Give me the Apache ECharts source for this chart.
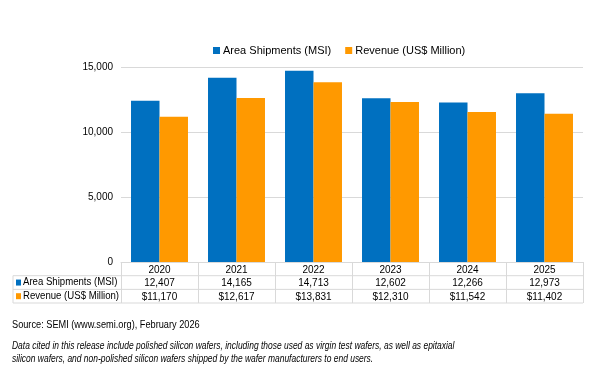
<!DOCTYPE html>
<html>
<head>
<meta charset="utf-8">
<script src="https://cdn.jsdelivr.net/npm/echarts@6/dist/echarts.min.js"></script>
<style>
  html, body { margin: 0; padding: 0; background: #fff; }
  #chart { width: 600px; height: 375px; }
</style>
</head>
<body>
<div id="chart"></div>
<script>
var years = ['2020', '2021', '2022', '2023', '2024', '2025']
var areaShipments = [12407, 14165, 14713, 12602, 12266, 12973]
var revenue = [11170, 12617, 13831, 12310, 11542, 11402]
var yTicks = [0, 5000, 10000, 15000]
var seriesNames = ['Area Shipments (MSI)', 'Revenue (US$ Million)']

var BLUE = '#0070c0'
var ORANGE = '#ff9900'
var LINE = '#d9d9d9'
var FONT = '"Liberation Sans", Arial, sans-serif'

var gridLeft = 121, gridRight = 17, gridTop = 67, gridBottom = 113
var rowY = [262, 275.7, 289.4, 303]
var tableLeft = 13

function fmt(v) {
    return v.toLocaleString('en-US')
}

var chart = echarts.init(document.getElementById('chart'))

var colW = (600 - gridLeft - gridRight) / years.length
var graphics = []

// table borders
for (var r = 1; r < rowY.length; r++) {
    graphics.push({
        type: 'line', silent: true,
        shape: {x1: tableLeft, y1: rowY[r], x2: 600 - gridRight, y2: rowY[r]},
        style: {stroke: LINE, lineWidth: 1}
    })
}
graphics.push({
    type: 'line', silent: true,
    shape: {x1: tableLeft, y1: rowY[1], x2: tableLeft, y2: rowY[3]},
    style: {stroke: LINE, lineWidth: 1}
})
for (var c = 0; c <= years.length; c++) {
    var x = Math.round(gridLeft + c * colW) + 0.5
    graphics.push({
        type: 'line', silent: true,
        shape: {x1: x, y1: rowY[0], x2: x, y2: rowY[3]},
        style: {stroke: LINE, lineWidth: 1}
    })
}
// row header cells
;[BLUE, ORANGE].forEach(function (col, i) {
    var cy = (rowY[i + 1] + rowY[i + 2]) / 2
    graphics.push({
        type: 'rect', silent: true,
        shape: {x: 16, y: cy - 3, width: 5, height: 6},
        style: {fill: col}
    })
    graphics.push({
        type: 'text', silent: true, x: 23, y: cy, scaleX: 0.96,
        style: {text: seriesNames[i], font: '10px ' + FONT, fill: '#000', verticalAlign: 'middle'}
    })
})
// notes
graphics.push({
    type: 'text', silent: true, x: 12, y: 325, scaleX: 0.92,
    style: {text: 'Source: SEMI (www.semi.org), February 2026', font: '10px ' + FONT, fill: '#000', verticalAlign: 'middle'}
})
graphics.push({
    type: 'text', silent: true, x: 12, y: 340, scaleX: 0.845,
    style: {
        text: 'Data cited in this release include polished silicon wafers, including those used as virgin test wafers, as well as epitaxial\nsilicon wafers, and non-polished silicon wafers shipped by the wafer manufacturers to end users.',
        font: 'italic 10px ' + FONT, fill: '#000', lineHeight: 13
    }
})

var option = {
    animation: false,
    backgroundColor: '#fff',
    textStyle: {fontFamily: FONT},
    color: [BLUE, ORANGE],
    legend: {
        top: 40,
        left: 208,
        itemWidth: 7,
        itemHeight: 7,
        itemGap: 14,
        icon: 'rect',
        textStyle: {fontSize: 11, color: '#000', padding: [0, 0, 0, -2]},
        data: seriesNames
    },
    grid: {left: gridLeft, right: gridRight, top: gridTop, bottom: gridBottom, containLabel: false},
    xAxis: {
        type: 'category',
        data: years,
        axisTick: {show: false},
        axisLine: {lineStyle: {color: LINE}},
        axisLabel: {
            margin: 1,
            interval: 0,
            color: '#000',
            fontSize: 10,
            lineHeight: 13.7,
            formatter: function (v, i) {
                return v + '\n' + fmt(areaShipments[i]) + '\n$' + fmt(revenue[i])
            }
        }
    },
    yAxis: {
        type: 'value',
        min: yTicks[0],
        max: yTicks[yTicks.length - 1],
        interval: 5000,
        axisLine: {show: false},
        axisTick: {show: false},
        axisLabel: {color: '#000', fontSize: 10, margin: 8, formatter: function (v) { return fmt(v) }},
        splitLine: {lineStyle: {color: LINE, width: 1}}
    },
    series: [
        {
            name: seriesNames[0], type: 'bar', data: areaShipments,
            barGap: '0%', barCategoryGap: '26%'
        },
        {
            name: seriesNames[1], type: 'bar', data: revenue,
            barGap: '0%', barCategoryGap: '26%'
        }
    ],
    graphic: graphics
}

chart.setOption(option)
</script>
</body>
</html>
